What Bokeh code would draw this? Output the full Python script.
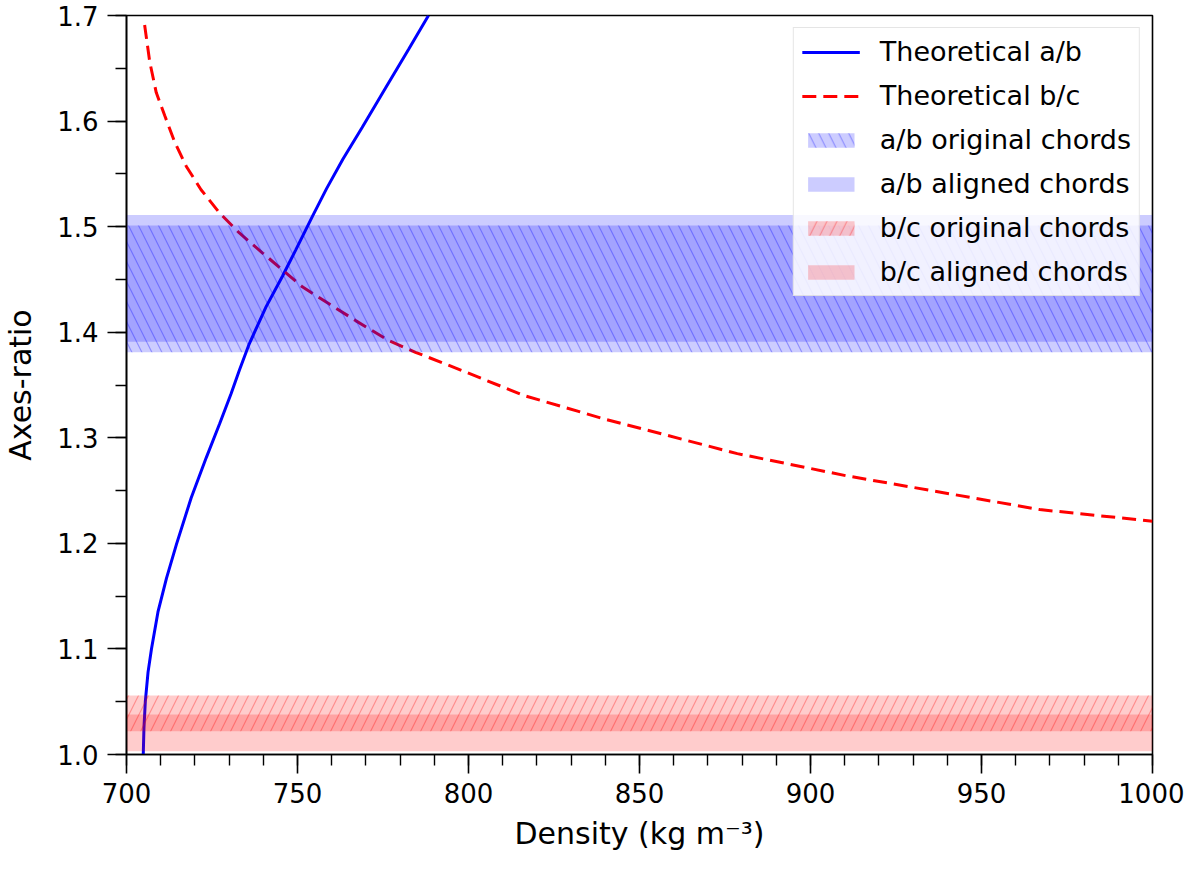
from bokeh.plotting import figure
from bokeh.models import FixedTicker, Legend, LegendItem, Range1d
from bokeh.embed import file_html
from bokeh.resources import INLINE
import numpy as np

# ---- data ----
x_ticks = [700, 750, 800, 850, 900, 950, 1000]
y_ticks = [1.0, 1.1, 1.2, 1.3, 1.4, 1.5, 1.6, 1.7]

# theoretical a/b (solid blue)
ab_density = [704.9, 705.1, 705.5, 706.3, 707.3, 709.2, 711.7, 714.6, 718.9, 723.3,
              727.2, 730.6, 733.0, 735.9, 740.8, 745.6, 749.5, 754.4, 758.5, 763.3,
              768.9, 775.7, 782.5, 788.3]
ab_ratio = [1.000, 1.025, 1.050, 1.078, 1.100, 1.135, 1.167, 1.199, 1.243, 1.281,
            1.313, 1.342, 1.364, 1.389, 1.424, 1.453, 1.478, 1.510, 1.536, 1.564,
            1.594, 1.631, 1.668, 1.700]

# theoretical b/c (dashed red)
bc_density = [705.3, 706.8, 708.7, 711.2, 714.1, 717.5, 721.8, 727.2, 733.0, 739.8,
              745.6, 751.4, 759.2, 767.0, 776.7, 784.5, 793.2, 816.3, 839.5, 878.6,
              910.5, 942.4, 967.0, 1000.0]
bc_ratio = [1.691, 1.656, 1.627, 1.605, 1.580, 1.557, 1.535, 1.513, 1.494, 1.475,
            1.459, 1.443, 1.427, 1.411, 1.392, 1.381, 1.370, 1.340, 1.318, 1.285,
            1.264, 1.246, 1.232, 1.221]

# chord bands (lower, upper)
ab_original = [1.381, 1.501]
ab_aligned = [1.391, 1.511]
bc_original = [1.022, 1.056]
bc_aligned = [1.003, 1.038]

FONT = "DejaVu Sans"

p = figure(
    width=1184, height=853,
    x_range=Range1d(x_ticks[0], x_ticks[-1]),
    y_range=Range1d(y_ticks[0], y_ticks[-1]),
    output_backend="svg", toolbar_location=None,
    min_border_left=122, min_border_right=32, min_border_top=15, min_border_bottom=90,
    background_fill_color="white", border_fill_color="white",
)
p.xgrid.visible = False
p.ygrid.visible = False
p.outline_line_color = "black"
p.outline_line_width = 1.6
p.outline_line_alpha = 1.0

# lines first, bands on top (as in the reference)
r_ab = p.line(ab_density, ab_ratio, line_color="blue", line_width=3)
r_bc = p.line(bc_density, bc_ratio, line_color="red", line_width=3, line_dash="14 7")

x_lo, x_hi = x_ticks[0], x_ticks[-1]
r_abo = p.quad(left=[x_lo], right=[x_hi], bottom=[ab_original[0]], top=[ab_original[1]],
               fill_color="blue", fill_alpha=0.2, line_alpha=0,
               hatch_pattern="left_diagonal_line", hatch_color="blue", hatch_alpha=0.3,
               hatch_scale=20, hatch_weight=1.2)
r_aba = p.quad(left=[x_lo], right=[x_hi], bottom=[ab_aligned[0]], top=[ab_aligned[1]],
               fill_color="blue", fill_alpha=0.2, line_alpha=0)
r_bco = p.quad(left=[x_lo], right=[x_hi], bottom=[bc_original[0]], top=[bc_original[1]],
               fill_color="red", fill_alpha=0.2, line_alpha=0,
               hatch_pattern="right_diagonal_line", hatch_color="red", hatch_alpha=0.3,
               hatch_scale=20, hatch_weight=1.2)
r_bca = p.quad(left=[x_lo], right=[x_hi], bottom=[bc_aligned[0]], top=[bc_aligned[1]],
               fill_color="red", fill_alpha=0.2, line_alpha=0)

# axes
x_minor = list(np.arange(x_ticks[0], x_ticks[-1] + 1, 10))
y_minor = list(np.round(np.arange(y_ticks[0], y_ticks[-1] + 0.001, 0.05), 2))
p.xaxis.ticker = FixedTicker(ticks=x_ticks, minor_ticks=x_minor)
p.yaxis.ticker = FixedTicker(ticks=y_ticks, minor_ticks=y_minor)
p.xaxis.major_label_overrides = {t: str(t) for t in x_ticks}
p.yaxis.major_label_overrides = {t: "%.1f" % t for t in y_ticks}

p.xaxis.axis_label = "Density (kg m\u207b\u00b3)"
p.yaxis.axis_label = "Axes-ratio"
for ax in (p.xaxis, p.yaxis):
    ax.axis_line_color = "black"
    ax.axis_line_width = 1.6
    ax.major_tick_line_color = "black"
    ax.minor_tick_line_color = "black"
    ax.major_tick_line_width = 1.6
    ax.minor_tick_line_width = 1.4
    ax.major_tick_in = 0
    ax.major_tick_out = 19
    ax.minor_tick_in = 0
    ax.minor_tick_out = 11
    ax.major_label_text_font = FONT
    ax.major_label_text_font_size = "26px"
    ax.major_label_text_color = "black"
    ax.major_label_standoff = 9
    ax.axis_label_text_font = FONT
    ax.axis_label_text_font_size = "30px"
    ax.axis_label_text_font_style = "normal"
    ax.axis_label_text_color = "black"
    ax.axis_label_standoff = 10
p.yaxis.axis_label_standoff = 16

legend = Legend(items=[
    LegendItem(label="Theoretical a/b", renderers=[r_ab]),
    LegendItem(label="Theoretical b/c", renderers=[r_bc]),
    LegendItem(label="a/b original chords", renderers=[r_abo]),
    LegendItem(label="a/b aligned chords", renderers=[r_aba]),
    LegendItem(label="b/c original chords", renderers=[r_bco]),
    LegendItem(label="b/c aligned chords", renderers=[r_bca]),
], location="top_right")
legend.margin = 12
legend.padding = 8
legend.spacing = 13
legend.glyph_width = 58
legend.glyph_height = 18
legend.label_height = 28
legend.label_standoff = 20
legend.label_text_font = FONT
legend.label_text_font_size = "27px"
legend.label_text_color = "black"
legend.border_line_color = "#cccccc"
legend.border_line_width = 1.2
legend.background_fill_color = "white"
legend.background_fill_alpha = 0.85
p.add_layout(legend)

open("out.html", "w").write(file_html(p, INLINE))
